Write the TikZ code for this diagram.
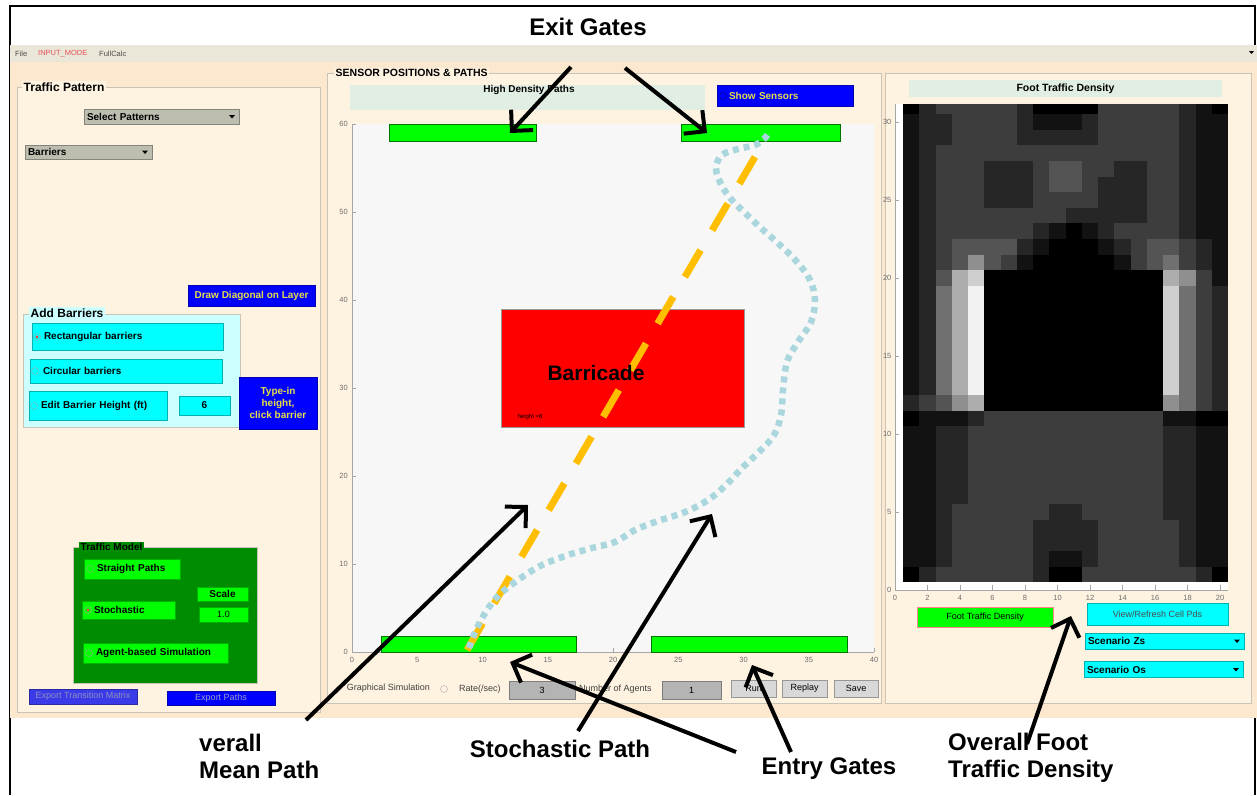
\documentclass[tikz,border=0pt]{standalone}
\usepackage{fontspec}
\setmainfont{Liberation Sans}
\usepackage{tikz}
\usetikzlibrary{arrows.meta,positioning}
\definecolor{guibg}{HTML}{FCE8CE}
\definecolor{panelbg}{HTML}{FEF2E1}
\definecolor{menubg}{HTML}{EAE7D8}
\definecolor{framegray}{HTML}{C9C4B8}
\definecolor{ddgray}{HTML}{BDBDB0}
\definecolor{guiblue}{HTML}{0000FF}
\definecolor{guiyellow}{HTML}{E8DE48}
\definecolor{guicyan}{HTML}{00FFFF}
\definecolor{lightcyan}{HTML}{CCFFFF}
\definecolor{guigreen}{HTML}{00FF00}
\definecolor{darkgreen}{HTML}{008C00}
\definecolor{titlebg}{HTML}{E1EEE3}
\definecolor{plotbg}{HTML}{F7F7F7}
\definecolor{meanorange}{HTML}{FFBE00}
\definecolor{stochblue}{HTML}{A9D7DD}
\definecolor{barred}{HTML}{FF0000}
\definecolor{menured}{HTML}{E8505A}
\definecolor{ticktext}{HTML}{6E6E6E}
\definecolor{fieldgray}{HTML}{B4B4B4}
\definecolor{btngray}{HTML}{D8D8D8}
\definecolor{exportblue}{HTML}{3A3AE8}
\newcommand{\guifont}{\fontsize{10}{12}\selectfont\bfseries}
\newcommand{\guiplain}{\fontsize{9}{11}\selectfont}

\begin{document}
\begin{tikzpicture}[
  x=1pt, y=-1pt,
  box/.style={draw=#1!70!black, fill=#1, line width=0.5pt, inner sep=0pt, font=\guifont},
  lbox/.style={box=#1, align=left, inner xsep=3pt},
  dd/.style={lbox=#1, path picture={\fill[black] ([xshift=-10pt,yshift=1.5pt]path picture bounding box.east) -- ++(6,0) -- ++(-3,3.5) -- cycle;}},
  frame/.style={draw=framegray, fill=#1, line width=0.8pt, inner sep=0pt},
  frame/.default=panelbg,
  grouplbl/.style={fill=#1, inner sep=1.5pt, font=\fontsize{12}{14}\selectfont\bfseries},
  grouplbl/.default=panelbg,
  radio/.style={circle, draw=gray!70, minimum size=7pt, inner sep=0pt},
  radioon/.style={radio, path picture={\fill[red!75] (path picture bounding box.center) circle (1.6pt);}},
  menutext/.style={font=\fontsize{7.5}{9}\selectfont, text=black!70, inner sep=0pt},
  ctrltext/.style={font=\guiplain, text=black!75, inner sep=0pt},
  ticklbl/.style={font=\fontsize{7.5}{9}\selectfont, text=ticktext, inner sep=1pt},
  axisgray/.style={draw=gray!70, line width=0.6pt},
  gate/.style={draw=green!45!black, fill=guigreen, line width=0.5pt, inner sep=0pt},
  meanpath/.style={meanorange, line width=7pt, dash pattern=on 31pt off 23pt},
  stochpath/.style={stochblue, line width=6.5pt, dash pattern=on 6pt off 5pt},
  callout/.style={line width=4pt, -{Straight Barb[length=15pt,width=30pt]}},
  note/.style={font=\fontsize{24}{27}\selectfont\bfseries, inner sep=0pt}
]

\useasboundingbox (0,0) rectangle (1257,795);
\fill[white] (0,0) rectangle (1257,795);
\draw[line width=2pt] (10,795) -- (10,6) -- (1255,6) -- (1255,795);

% window
\fill[menubg] (10,45) rectangle (1257,62);
\fill[guibg] (10,62) rectangle (1257,718);
\node[menutext, anchor=west] (mfile) at (15,54) {File};
\node[menutext, anchor=west, text=menured] (mmode) at (38,54) {INPUT\_MODE};
\node[menutext, anchor=west] (mcalc) at (99,54) {FullCalc};
\fill (1249,51) -- ++(5,0) -- ++(-2.5,3) -- cycle;

% traffic pattern panel
\node[frame, minimum width=303, minimum height=625] (patframe) at (168.5,399.5) {};
\node[grouplbl, anchor=west] (patlbl) at (22,87) {Traffic Pattern};
\node[dd=ddgray, text width=149, minimum height=15] (selpat) at (161.5,116.5) {Select Patterns};
\node[dd=ddgray, text width=121, minimum height=14] (barsel) at (88.5,152) {Barriers};
\node[box=guiblue, minimum width=127, minimum height=21, text=guiyellow] (diagbtn) at (251.5,295.5) {Draw Diagonal on Layer};

\node[frame=lightcyan, minimum width=217, minimum height=113] (barframe) at (131.5,370.5) {};
\node[grouplbl=lightcyan, anchor=west] (barlbl) at (29,313) {Add Barriers};
\node[lbox=guicyan, text width=185, minimum height=27] (rectbtn) at (127.5,336.5) {\hspace*{9pt}Rectangular barriers};
\node[lbox=guicyan, text width=186, minimum height=24] (circbtn) at (126,371) {\hspace*{10pt}Circular barriers};
\node[lbox=guicyan, text width=132, minimum height=29] (editbtn) at (98,405.5) {\hspace*{9pt}Edit Barrier Height (ft)};
\node[box=guicyan, minimum width=51, minimum height=19] (heightfld) at (204.5,405.5) {6};
\node[radioon] (rectradio) at (37,337) {};
\node[radio] (circradio) at (35,371) {};
\node[radio] (editradio) at (34,406) {};
\node[box=guiblue, minimum width=78, minimum height=52, text=guiyellow, align=center] (typein) at (278,403) {Type-in\\height,\\click barrier};

\node[frame=darkgreen, minimum width=184, minimum height=136] (modelframe) at (165,615) {};
\node[grouplbl=darkgreen, anchor=west, font=\guifont] (modellbl) at (79,547) {Traffic Model};
\node[lbox=guigreen, text width=90, minimum height=20] (straightbtn) at (132,569) {\hspace*{10pt}Straight Paths};
\node[box=guigreen, minimum width=51, minimum height=14] (scalelbl) at (222.5,594) {Scale};
\node[lbox=guigreen, text width=87, minimum height=18] (stochbtn) at (128.5,610) {\hspace*{9pt}Stochastic};
\node[box=guigreen, minimum width=49, minimum height=15, font=\guiplain] (scalefld) at (223.5,614.5) {1.0};
\node[lbox=guigreen, text width=139, minimum height=20] (agentbtn) at (155.5,653) {\hspace*{10pt}Agent-based Simulation};
\node[radio] (straightradio) at (90,569) {};
\node[radioon] (stochradio) at (88,610) {};
\node[radio] (agentradio) at (89,653) {};
\node[box=exportblue, minimum width=108, minimum height=15, font=\guiplain, text=blue!25!gray!70] (exportmat) at (83,696.5) {Export Transition Matrix};
\node[box=guiblue, minimum width=108, minimum height=14, font=\guiplain, text=blue!30!gray!60] (exportpaths) at (221,698) {Export Paths};

% sensor positions & paths panel
\node[frame, minimum width=554, minimum height=630] (sensorframe) at (604,388) {};
\node[grouplbl, anchor=west, font=\fontsize{10.5}{12}\selectfont\bfseries] (sensorlbl) at (334,73) {SENSOR POSITIONS \& PATHS};
\node[fill=titlebg, minimum width=355, minimum height=25, inner sep=0pt] (hdbox) at (527.5,97.5) {};
\node[font=\guifont, inner sep=0pt] (hdtitle) at (529,90) {High Density Paths};
\node[lbox=guiblue, text width=130, minimum height=21, text=guiyellow] (sensorbtn) at (785,95.5) {\hspace*{9pt}Show Sensors};
\node[radio, draw=blue!40!black] (sensorradio) at (723,96) {};

\node[fill=plotbg, minimum width=522, minimum height=528, inner sep=0pt] (plotarea) at (613,388) {};
\draw[axisgray] (352,124) -- (352,652) -- (874,652);
\foreach \t in {0,5,...,40} {
  \draw[axisgray] (352+13.05*\t,652) -- ++(0,-4);
  \node[ticklbl, anchor=north] (px\t) at (352+13.05*\t,656) {\t};
}
\foreach \t in {0,10,...,60} {
  \draw[axisgray] (352,652-8.8*\t) -- ++(4,0);
  \node[ticklbl, anchor=east] (py\t) at (349,652-8.8*\t) {\t};
}

\node[gate, minimum width=147, minimum height=17] (exitL) at (462.5,133) {};
\node[gate, minimum width=159, minimum height=17] (exitR) at (760.5,133) {};
\node[gate, minimum width=195, minimum height=16] (entryL) at (478.5,644) {};
\node[gate, minimum width=196, minimum height=16] (entryR) at (749,644) {};
\node[draw=gray!80, fill=barred, minimum width=243, minimum height=118, inner sep=0pt] (barricade) at (622.5,368) {};
\node[font=\fontsize{6}{7}\selectfont, inner sep=0pt] (heightlbl) at (530,417) {height =6};

\draw[meanpath] (467,650) -- (766,138);
\draw[stochpath] plot[smooth, tension=0.6] coordinates {(469,648) (476,630) (487,610) (500,594) (518,580) (540,566) (565,556) (592,548) (615,542) (635,530) (658,521) (685,512) (708,500) (726,485) (742,468) (760,451) (774,435) (781,415) (783,390) (787,362) (798,342) (811,322) (815,300) (810,280) (797,262) (780,245) (762,229) (745,213) (731,199) (721,184) (716,168) (722,155) (738,149) (755,145) (764,139) (770,131)};
\node[font=\fontsize{21}{24}\selectfont\bfseries, inner sep=0pt] (barlabel) at (596,373) {Barricade};

\node[ctrltext, anchor=east] (gsim) at (430,688) {Graphical Simulation};
\node[radio] (gsimradio) at (444,689) {};
\node[ctrltext, anchor=west] (ratelbl) at (459,689) {Rate(/sec)};
\node[box=fieldgray, minimum width=66, minimum height=18, font=\guiplain] (ratefld) at (542,690) {3};
\node[ctrltext, anchor=west] (agentslbl) at (579,689) {Number of Agents};
\node[box=fieldgray, minimum width=59, minimum height=18, font=\guiplain] (agentsfld) at (691.5,690) {1};
\node[box=btngray, minimum width=45, minimum height=17, font=\guiplain] (runbtn) at (753.5,688.5) {Run};
\node[box=btngray, minimum width=45, minimum height=17, font=\guiplain] (replaybtn) at (804.5,688.5) {Replay};
\node[box=btngray, minimum width=44, minimum height=17, font=\guiplain] (savebtn) at (856,688.5) {Save};

% foot traffic density panel
\node[frame, minimum width=366, minimum height=630] (densframe) at (1068,388) {};
\node[fill=titlebg, minimum width=313, minimum height=17, inner sep=0pt, font=\fontsize{10.5}{12}\selectfont\bfseries] (denstitle) at (1065.5,88.5) {Foot Traffic Density};

\begin{scope}[shift={(895,590)}, x=16.25pt, y=15.6pt]
  \fill[white] (0,0) rectangle (20.5,31.15);
  \begin{scope}
    \clip (0.5,0.5) rectangle (20.5,31.15);
    \foreach \rowvals [count=\rw] in {
      {0,2,3,3,3,3,3,3,2,0,0,3,3,3,3,3,3,3,2,0},
      {1,1,2,3,3,3,3,3,2,1,1,2,3,3,3,3,3,2,1,1},
      {1,1,2,3,3,3,3,3,2,2,2,2,3,3,3,3,3,2,1,1},
      {1,1,2,3,3,3,3,3,2,2,2,2,3,3,3,3,3,2,1,1},
      {1,1,2,3,3,3,3,3,3,2,2,3,3,3,3,3,2,2,1,1},
      {1,1,2,2,3,3,3,3,3,3,3,3,3,3,3,3,2,2,1,1},
      {1,1,2,2,3,3,3,3,3,3,3,3,3,3,3,3,2,2,1,1},
      {1,1,2,2,3,3,3,3,3,3,3,3,3,3,3,3,2,2,1,1},
      {1,1,2,2,3,3,3,3,3,3,3,3,3,3,3,3,2,2,1,1},
      {1,1,2,2,3,3,3,3,3,3,3,3,3,3,3,3,2,2,1,1},
      {0,1,1,1,2,3,3,3,3,3,3,3,3,3,3,3,1,1,0,0},
      {2,3,4,6,7,0,0,0,0,0,0,0,0,0,0,0,6,5,3,2},
      {1,2,5,7,9,0,0,0,0,0,0,0,0,0,0,0,8,5,3,2},
      {1,2,5,7,9,0,0,0,0,0,0,0,0,0,0,0,8,5,3,2},
      {1,2,5,7,9,0,0,0,0,0,0,0,0,0,0,0,8,5,3,2},
      {1,2,5,7,9,0,0,0,0,0,0,0,0,0,0,0,8,5,3,2},
      {1,2,5,7,9,0,0,0,0,0,0,0,0,0,0,0,8,5,3,2},
      {1,2,5,7,9,0,0,0,0,0,0,0,0,0,0,0,8,5,3,2},
      {1,2,5,7,9,0,0,0,0,0,0,0,0,0,0,0,8,5,3,2},
      {1,2,4,7,8,0,0,0,0,0,0,0,0,0,0,0,7,6,3,1},
      {1,2,3,4,6,4,3,1,0,0,0,0,0,1,3,4,5,3,2,1},
      {1,2,3,4,4,4,4,2,1,0,0,0,1,2,3,4,4,3,2,1},
      {1,2,3,3,3,3,3,3,2,1,0,1,2,3,3,3,3,2,1,1},
      {1,2,3,3,3,3,3,3,3,3,2,2,2,2,2,3,3,2,1,1},
      {1,2,3,3,3,2,2,2,3,3,3,3,2,2,2,3,3,2,1,1},
      {1,2,3,3,3,2,2,2,3,4,4,3,2,2,2,3,3,2,1,1},
      {1,2,3,3,3,2,2,2,3,4,4,3,3,2,2,3,3,2,1,1},
      {1,2,3,3,3,3,3,3,3,3,3,3,3,3,3,3,3,2,1,1},
      {1,2,2,3,3,3,3,2,2,2,2,2,3,3,3,3,3,2,1,1},
      {1,2,2,3,3,3,3,2,1,1,1,2,3,3,3,3,3,2,1,1},
      {0,2,3,3,3,3,3,2,0,0,0,0,3,3,3,3,3,2,1,0}} {
      \foreach \v [count=\cl] in \rowvals {
        \pgfmathtruncatemacro{\shade}{0.444*\v*\v+6.67*\v}
        \fill[white!\shade!black] (\cl-0.5,\rw-0.5) rectangle (\cl+0.52,\rw+0.52);
      }
    }
  \end{scope}
  \foreach \t in {0,2,...,20} {
    \draw[axisgray] (\t,0) -- (\t,0.3);
    \node[ticklbl, anchor=north] (hx\t) at (\t,-0.25) {\t};
  }
  \foreach \t in {0,5,...,30} {
    \draw[axisgray] (0,\t) -- (0.25,\t);
    \node[ticklbl, anchor=east] (hy\t) at (-0.15,\t) {\t};
  }
  \draw[axisgray] (0,31.15) -- (0,0) -- (20.5,0);
\end{scope}

\node[draw=red!30!pink, fill=guigreen, line width=0.8pt, minimum width=136, minimum height=20, inner sep=0pt, font=\guiplain] (densbtn) at (985,617) {Foot Traffic Density};
\node[box=guicyan, minimum width=141, minimum height=22, font=\guiplain, text=black!70] (refreshbtn) at (1157.5,614) {View/Refresh Cell Pds};
\node[dd=guicyan, text width=153, minimum height=16] (scenZ) at (1164.5,641) {Scenario Zs};
\node[dd=guicyan, text width=153, minimum height=16] (scenO) at (1163.5,669.5) {Scenario Os};

% callouts
\node[note] (exitnote) at (588,27) {Exit Gates};
\node[note, align=left, anchor=north west] (meannote) at (199,734) {verall\\Mean Path};
\node[note] (stochnote) at (560,749) {Stochastic Path};
\node[note] (entrynote) at (829,769) {Entry Gates};
\node[note, align=left, anchor=north west] (densnote) at (948,733) {Overall Foot\\Traffic Density};

\coordinate (exitsrcL) at (571,67);
\coordinate (exittipL) at (510,133);
\coordinate (exitsrcR) at (625,68);
\coordinate (exittipR) at (707,133);
\coordinate (meansrc) at (306,720);
\coordinate (meantip) at (528,505);
\coordinate (stochsrc) at (578,731);
\coordinate (stochtip) at (712,514);
\coordinate (entrysrcL) at (736,752);
\coordinate (entrytipL) at (510,662);
\coordinate (entrysrcR) at (791,752);
\coordinate (entrytipR) at (752,665);
\coordinate (denssrc) at (1027,744);
\coordinate (denstip) at (1071,616);

\draw[callout] (exitsrcL) -- (exittipL);
\draw[callout] (exitsrcR) -- (exittipR);
\draw[callout] (meansrc) -- (meantip);
\draw[callout] (stochsrc) -- (stochtip);
\draw[callout] (entrysrcL) -- (entrytipL);
\draw[callout] (entrysrcR) -- (entrytipR);
\draw[callout] (denssrc) -- (denstip);

\end{tikzpicture}
\end{document}
